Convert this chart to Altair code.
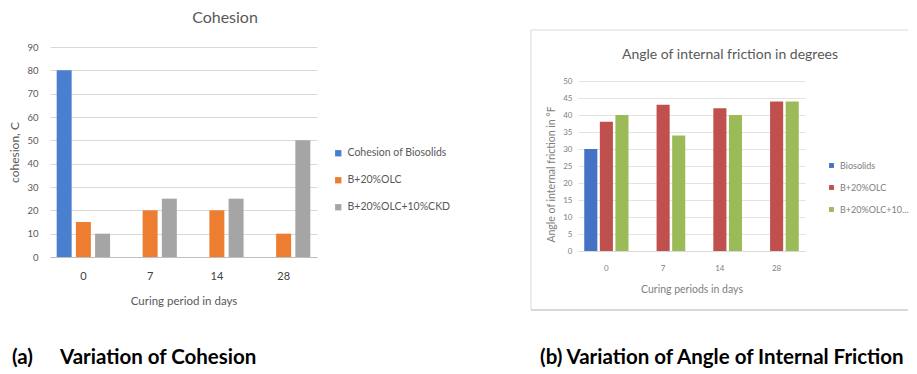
import altair as alt
import pandas as pd

days = ["0", "7", "14", "28"]

# Panel (a): cohesion
coh_series = ["Cohesion of Biosolids", "B+20%OLC", "B+20%OLC+10%CKD"]
coh_biosolids = [80, None, None, None]
coh_olc = [15, 20, 20, 10]
coh_olc_ckd = [10, 25, 25, 50]
coh_colors = ["#4a7fcf", "#ed7d31", "#a5a5a5"]

# Panel (b): angle of internal friction
phi_series = ["Biosolids", "B+20%OLC", "B+20%OLC+10%CKD"]
phi_biosolids = [30, None, None, None]
phi_olc = [38, 43, 42, 44]
phi_olc_ckd = [40, 34, 40, 44]
phi_colors = ["#4472c4", "#c0504d", "#9bbb59"]

FONT = "Lato"


def long_df(series_names, arrays):
    rows = []
    for s, arr in zip(series_names, arrays):
        for d, v in zip(days, arr):
            if v is not None:
                rows.append({"day": d, "series": s, "value": v})
    return pd.DataFrame(rows)


coh_df = long_df(coh_series, [coh_biosolids, coh_olc, coh_olc_ckd])
phi_df = long_df(phi_series, [phi_biosolids, phi_olc, phi_olc_ckd])
one = pd.DataFrame({"t": [""]})

# ---------------- left panel ----------------
LW, LH = 267, 210
left_bars = alt.Chart(coh_df).mark_bar().encode(
    x=alt.X("day:N", sort=days,
            scale=alt.Scale(paddingInner=0.2, paddingOuter=0.1),
            axis=alt.Axis(title="Curing period in days", labelAngle=0, ticks=False,
                          labelFontSize=11, labelColor="#404040", labelPadding=13,
                          titleFontSize=11.5, titleColor="#595959", titleFontWeight="normal",
                          titlePadding=14, domainColor="#bfbfbf", labelFont=FONT, titleFont=FONT)),
    xOffset=alt.XOffset("series:N", sort=coh_series,
                        scale=alt.Scale(domain=coh_series, paddingInner=0.22)),
    y=alt.Y("value:Q", scale=alt.Scale(domain=[0, 90]),
            axis=alt.Axis(title="cohesion, C", values=list(range(0, 91, 10)), ticks=False,
                          domain=False, gridColor="#d9d9d9", labelFontSize=9.5,
                          labelColor="#595959", labelPadding=12, titleFontSize=12,
                          titleColor="#595959", titleFontWeight="normal", titlePadding=5,
                          labelFont=FONT, titleFont=FONT)),
    color=alt.Color("series:N", sort=coh_series,
                    scale=alt.Scale(domain=coh_series, range=coh_colors),
                    legend=alt.Legend(title=None, orient="none", legendX=283, legendY=101,
                                      symbolType="square", symbolSize=40, rowPadding=16,
                                      labelFontSize=10.5, labelColor="#595959", labelFont=FONT,
                                      symbolStrokeWidth=0, labelLimit=200)),
)
left_title = alt.Chart(pd.DataFrame({"t": ["Cohesion"]})).mark_text(
    fontSize=16, color="#595959", font=FONT, align="center", baseline="middle"
).encode(text="t:N", x=alt.value(175), y=alt.value(-29))
left_caption1 = alt.Chart(pd.DataFrame({"t": ["(a)"]})).mark_text(
    fontSize=20.5, fontWeight="bold", color="#000000", font=FONT, align="left", baseline="middle"
).encode(text="t:N", x=alt.value(-38), y=alt.value(311))
left_caption2 = alt.Chart(pd.DataFrame({"t": ["Variation of Cohesion"]})).mark_text(
    fontSize=20.5, fontWeight="bold", color="#000000", font=FONT, align="left", baseline="middle"
).encode(text="t:N", x=alt.value(10), y=alt.value(311))
left_bounds = alt.Chart(one).mark_rect(opacity=0).encode(
    x=alt.value(-42), x2=alt.value(450), y=alt.value(-39), y2=alt.value(0))

left = alt.layer(left_bounds, left_bars, left_title, left_caption1, left_caption2).properties(
    width=LW, height=LH)

# ---------------- right panel ----------------
# plot areas of both panels are top-aligned by the layout; the right panel's
# bars start lower, so its y range is set to leave a top band of DY pixels
RW, DY, RPH = 227, 34, 170
RH = RPH + DY
frame_col = "#d9d9d9"
right_bars = alt.Chart(phi_df).mark_bar().encode(
    x=alt.X("day:N", sort=days,
            scale=alt.Scale(paddingInner=0.22, paddingOuter=0.11),
            axis=alt.Axis(title="Curing periods in days", labelAngle=0, ticks=False,
                          labelFontSize=8, labelColor="#808080", labelPadding=13,
                          titleFontSize=10.5, titleColor="#808080", titleFontWeight="normal",
                          titlePadding=12, domainColor="#d9d9d9", labelFont=FONT, titleFont=FONT)),
    xOffset=alt.XOffset("series:N", sort=phi_series,
                        scale=alt.Scale(domain=phi_series, paddingInner=0.16)),
    y=alt.Y("value:Q", scale=alt.Scale(domain=[0, 50], range=[RH, DY]),
            axis=alt.Axis(title="Angle of internal friction in °F", values=list(range(0, 51, 5)),
                          ticks=False, domain=False, gridColor="#e3e3e3", labelFontSize=8,
                          labelColor="#808080", labelPadding=6, titleFontSize=10.5,
                          titleColor="#808080", titleFontWeight="normal", titlePadding=6,
                          titleY=DY + RPH / 2 + 8,
                          labelFont=FONT, titleFont=FONT)),
    color=alt.Color("series:N", sort=phi_series,
                    scale=alt.Scale(domain=phi_series, range=phi_colors),
                    legend=alt.Legend(title=None, orient="none", legendX=249, legendY=80 + DY,
                                      symbolType="square", symbolSize=24, rowPadding=12,
                                      labelFontSize=9, labelColor="#808080", labelFont=FONT,
                                      symbolStrokeWidth=0, labelLimit=70)),
)
right_title = alt.Chart(pd.DataFrame({"t": ["Angle of internal friction in degrees"]})).mark_text(
    fontSize=14, color="#595959", font=FONT, align="center", baseline="middle"
).encode(text="t:N", x=alt.value(152), y=alt.value(-26 + DY))
right_caption = alt.Chart(pd.DataFrame({"t": ["(b) Variation of Angle of Internal Friction"]})).mark_text(
    fontSize=20.5, fontWeight="bold", color="#000000", font=FONT, align="left", baseline="middle"
).encode(text="t:N", x=alt.value(-38), y=alt.value(311))
right_bounds = alt.Chart(one).mark_rect(opacity=0).encode(
    x=alt.value(-78), x2=alt.value(0), y=alt.value(-39), y2=alt.value(0))
frame_top = alt.Chart(one).mark_rule(color=frame_col).encode(
    x=alt.value(-47), x2=alt.value(330), y=alt.value(-51 + DY))
frame_bottom = alt.Chart(one).mark_rule(color=frame_col, strokeWidth=2).encode(
    x=alt.value(-47), x2=alt.value(330), y=alt.value(229 + DY))
frame_left = alt.Chart(one).mark_rule(color=frame_col).encode(
    x=alt.value(-47), y=alt.value(-51 + DY), y2=alt.value(229 + DY))

right = alt.layer(right_bounds, frame_top, frame_bottom, frame_left, right_bars,
                  right_title, right_caption).properties(width=RW, height=RH)

chart = alt.hconcat(left, right, spacing=0).resolve_scale(
    color="independent", x="independent", y="independent", xOffset="independent"
).resolve_legend(color="independent").properties(padding=0).configure_view(stroke=None)

chart.save("out.html", embed_options={"renderer": "svg", "actions": False})
